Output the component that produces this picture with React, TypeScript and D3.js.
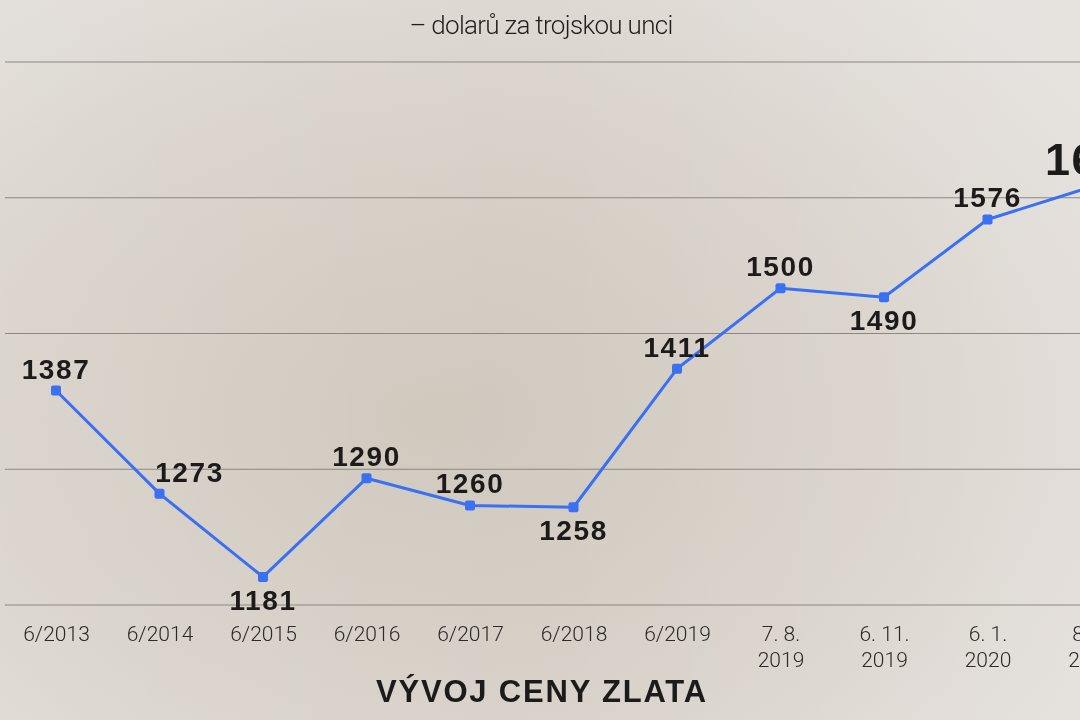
import React, { useEffect, useRef } from "react";
import * as d3 from "d3";

// gold price, USD per troy ounce
const dates = ["6/2013", "6/2014", "6/2015", "6/2016", "6/2017", "6/2018", "6/2019", "7. 8.|2019", "6. 11.|2019", "6. 1.|2020", "8. 4.|2020"];
const prices = [1387, 1273, 1181, 1290, 1260, 1258, 1411, 1500, 1490, 1576, 1612];
const labelSide = ["above", "right", "below", "above", "above", "below", "above", "above", "below", "above", "big"];
const gridValues = [1150, 1300, 1450, 1600, 1750];

const W = 1080;
const H = 720;
const BLUE = "#3a70f2";

export default function App() {
  const axisRef = useRef<SVGGElement>(null);

  const x = d3.scalePoint<string>().domain(dates).range([56, 1091]);
  const y = d3.scaleLinear().domain([1150, 1750]).range([605, 62]);

  const line = d3
    .line<number>()
    .x((_, i) => x(dates[i]) as number)
    .y((d) => y(d));

  useEffect(() => {
    const axis = d3.axisBottom(x).tickSize(0).tickPadding(0).tickFormat(() => "");
    const g = d3.select(axisRef.current);
    g.selectAll("*").remove();
    g.call(axis);
    g.select(".domain").remove();
    g.selectAll<SVGTextElement, string>(".tick text")
      .attr("y", 0)
      .attr("dy", 0)
      .attr("fill", "#2b2a28")
      .style("font-family", "Roboto, 'Liberation Sans', sans-serif")
      .style("font-weight", "300")
      .style("font-size", "21px")
      .each(function (d) {
        const parts = d.split("|");
        const t = d3.select(this);
        parts.forEach((p, i) => {
          t.append("tspan").attr("x", 0).attr("y", i * 26).text(p);
        });
      });
  }, []);

  return (
    <svg width={W} height={H} style={{ position: "fixed", left: 0, top: 0 }}>
      <defs>
        <radialGradient id="bg" cx="0.4" cy="0.58" r="0.75">
          <stop offset="0" stopColor="#d0c8bd" />
          <stop offset="0.55" stopColor="#d8d2ca" />
          <stop offset="1" stopColor="#e3dfdb" />
        </radialGradient>
        <linearGradient id="sheen" x1="0" y1="0" x2="1" y2="0">
          <stop offset="0" stopColor="#ffffff" stopOpacity="0.08" />
          <stop offset="0.5" stopColor="#ffffff" stopOpacity="0" />
          <stop offset="1" stopColor="#ffffff" stopOpacity="0.12" />
        </linearGradient>
      </defs>
      <rect width={W} height={H} fill="url(#bg)" />
      <rect width={W} height={H} fill="url(#sheen)" />

      <text
        x={541}
        y={34}
        textAnchor="middle"
        fontFamily="Roboto, 'Liberation Sans', sans-serif"
        fontWeight={300}
        fontSize={26}
        letterSpacing={-0.7}
        fill="#1f1e1c"
      >
        – dolarů za trojskou unci
      </text>

      {gridValues.map((v) => (
        <line key={v} x1={5} x2={W} y1={y(v)} y2={y(v)} stroke="#8c8782" strokeWidth={1} />
      ))}

      <path d={line(prices) ?? ""} fill="none" stroke={BLUE} strokeWidth={3} strokeLinejoin="round" />
      {prices.map((p, i) => (
        <rect
          key={i}
          x={(x(dates[i]) as number) - 5}
          y={y(p) - 5}
          width={10}
          height={10}
          rx={2}
          fill={BLUE}
        />
      ))}

      {prices.map((p, i) => {
        const px = x(dates[i]) as number;
        const py = y(p);
        const side = labelSide[i];
        const big = side === "big";
        const lx = side === "right" ? px + 30 : px;
        const ly = side === "below" ? py + 33 : py - 12;
        return (
          <text
            key={i}
            x={big ? px - 46 : lx}
            y={big ? 175 : ly}
            textAnchor={big ? "start" : "middle"}
            fontFamily="'Liberation Sans', Arial, sans-serif"
            fontWeight={700}
            fontSize={big ? 45 : 28}
            letterSpacing={big ? 1.5 : 1.6}
            fill="#1c1b1a"
          >
            {p}
          </text>
        );
      })}

      <g ref={axisRef} transform="translate(0,641)" />

      <text
        x={542}
        y={702}
        textAnchor="middle"
        fontFamily="'Liberation Sans', Arial, sans-serif"
        fontWeight={700}
        fontSize={31}
        letterSpacing={1.8}
        fill="#1c1b1a"
      >
        VÝVOJ CENY ZLATA
      </text>
    </svg>
  );
}
